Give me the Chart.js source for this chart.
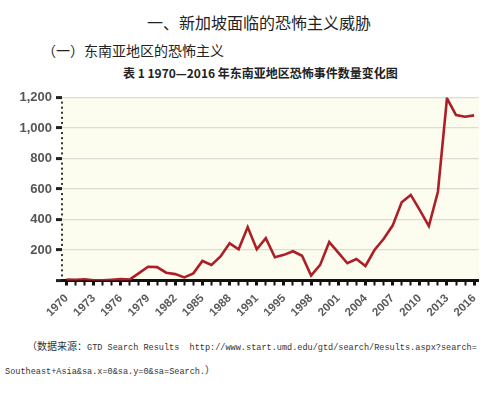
<!DOCTYPE html>
<html>
<head>
<meta charset="utf-8">
<script src="https://cdn.jsdelivr.net/npm/chart.js@4"></script>
<style>
    body { margin: 0; background: #fff; width: 490px; height: 398px; position: relative; overflow: hidden; }
    .txt { position: absolute; white-space: nowrap; color: #222; }
    .cjk { font-family: "Noto Sans CJK SC", sans-serif; }
    .src { font-family: "Liberation Mono", monospace; font-size: 8.55px; color: #333; line-height: 12px; white-space: pre; }
    .src span { font-family: "Noto Sans CJK SC", sans-serif; font-size: 10px; }
    #wrap { position: absolute; left: 0; top: 85px; width: 490px; height: 235px; }
</style>
</head>
<body>
<div class="txt cjk" style="left:147px; top:13px; font-size:16px; line-height:18px;">一、新加坡面临的恐怖主义威胁</div>
<div class="txt cjk" style="left:42px; top:42px; font-size:14px; line-height:16px;">（一）东南亚地区的恐怖主义</div>
<div class="txt cjk" style="left:123px; top:66px; font-size:12px; line-height:14px; font-weight:bold;">表 1 1970—2016 年东南亚地区恐怖事件数量变化图</div>

<div id="wrap"><canvas id="terrorChart" width="490" height="235"></canvas></div>

<div class="txt src" style="left:27px; top:340px;"><span>（数据来源：</span>GTD Search Results  http://www.start.umd.edu/gtd/search/Results.aspx?search=</div>
<div class="txt src" style="left:5px; top:364px;">Southeast+Asia&amp;sa.x=0&amp;sa.y=0&amp;sa=Search.<span>）</span></div>

<script>
// GTD has no 1993 data, so that year is skipped
const years = [
    '1970', '1971', '1972', '1973', '1974', '1975', '1976', '1977', '1978', '1979',
    '1980', '1981', '1982', '1983', '1984', '1985', '1986', '1987', '1988', '1989',
    '1990', '1991', '1992', '1994', '1995', '1996', '1997', '1998', '1999', '2000',
    '2001', '2002', '2003', '2004', '2005', '2006', '2007', '2008', '2009', '2010',
    '2011', '2012', '2013', '2014', '2015', '2016'
];

const incidents = [
    6, 5, 8, 2, 2, 5, 9, 7, 48, 90,
    88, 51, 42, 20, 47, 128, 102, 158, 244, 205,
    350, 205, 277, 152, 168, 192, 162, 32, 102, 252,
    183, 113, 141, 95, 200, 272, 360, 513, 561, 462,
    357, 582, 1195, 1085, 1074, 1083
];

const yTicks = [0, 200, 400, 600, 800, 1000, 1200];

// cream fill behind the plot
const plotBackground = {
    id: 'plotBackground',
    beforeDraw(chart) {
        const { ctx, chartArea } = chart;
        ctx.save();
        ctx.fillStyle = '#fcfcef';
        ctx.fillRect(chartArea.left, chartArea.top, chartArea.right - chartArea.left, chartArea.bottom - chartArea.top);
        ctx.restore();
    }
};

// small dotted minor ticks on the y axis
const minorDots = {
    id: 'minorDots',
    afterDraw(chart) {
        const { ctx, chartArea } = chart;
        const y = chart.scales.y;
        ctx.save();
        ctx.fillStyle = '#333';
        for (let i = 0; i < yTicks.length - 1; i++) {
            const step = (yTicks[i + 1] - yTicks[i]) / 6;
            for (let k = 1; k < 6; k++) {
                const py = y.getPixelForValue(yTicks[i] + step * k);
                ctx.fillRect(chartArea.left - 1, py - 1, 2, 2);
            }
        }
        ctx.restore();
    }
};

function createChart() {
    const ctx = document.getElementById('terrorChart');

    new Chart(ctx, {
        type: 'line',
        data: {
            labels: years,
            datasets: [{
                label: '恐怖事件数量',
                data: incidents,
                borderColor: '#ad1f26',
                borderWidth: 2.6,
                pointRadius: 0,
                tension: 0,
                fill: false
            }]
        },
        options: {
            responsive: false,
            animation: false,
            layout: { padding: { top: 12.5, right: 8, left: 0, bottom: 0 } },
            plugins: {
                legend: { display: false },
                tooltip: { enabled: false }
            },
            scales: {
                x: {
                    offset: true,
                    afterFit: (scale) => { scale.height = 39.5; },
                    border: { display: true, color: '#111', width: 3 },
                    grid: {
                        drawOnChartArea: false,
                        tickLength: 5,
                        tickColor: '#111',
                        tickWidth: (c) => (c.index % 3 === 0 ? 3 : 2)
                    },
                    ticks: {
                        autoSkip: false,
                        minRotation: 45,
                        maxRotation: 45,
                        padding: 6,
                        color: '#5a5a5a',
                        font: { family: 'Liberation Sans', size: 11.5, weight: 'bold' },
                        callback: (value, index) => (index % 3 === 0 ? years[index] : '')
                    }
                },
                y: {
                    min: 0,
                    max: 1200,
                    afterFit: (scale) => { scale.width = 62; },
                    border: { display: false },
                    grid: {
                        color: '#dcdcd4',
                        lineWidth: 1.2,
                        tickLength: 6,
                        tickWidth: 3,
                        tickColor: '#222'
                    },
                    ticks: {
                        stepSize: 200,
                        padding: 4,
                        color: '#555',
                        font: { family: 'Liberation Sans', size: 13, weight: 'bold' },
                        callback: (value) => (value === 0 ? '' : value.toLocaleString('en-US'))
                    }
                }
            }
        },
        plugins: [plotBackground, minorDots]
    });
}

window.onload = () => {
    createChart();
};
</script>
</body>
</html>
